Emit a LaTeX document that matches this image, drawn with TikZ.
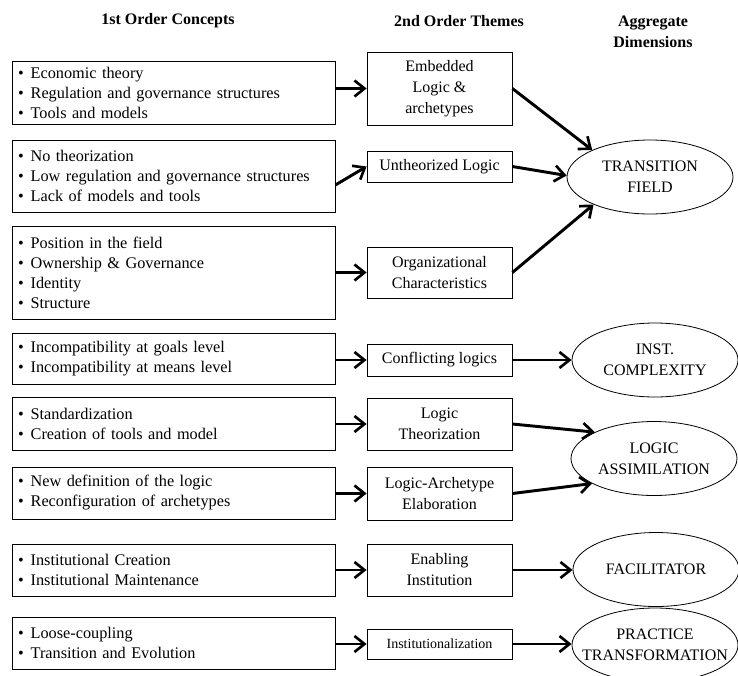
\documentclass[tikz,border=0pt]{standalone}
\usepackage{fontspec}
\setmainfont{Liberation Serif}
\usetikzlibrary{arrows.meta,shapes.geometric}
\newcommand\itm{\makebox[9.5pt][l]{\textbullet}}

\begin{document}
\begin{tikzpicture}[x=0.75pt,y=-0.75pt,
  head/.style={font=\bfseries\fontsize{12}{15.75}\selectfont, align=center},
  lbox/.style={draw, line width=0.6pt, font=\fontsize{12.2}{15}\selectfont,
    text width=233.25pt, inner xsep=4.5pt, inner ysep=2pt, align=left},
  mbox/.style={draw, line width=0.6pt, font=\fontsize{12}{15.75}\selectfont,
    minimum width=108.75pt, inner xsep=2pt, inner ysep=2pt, align=center},
  ell/.style={draw, line width=0.6pt, ellipse, font=\fontsize{12}{16}\selectfont,
    minimum width=124.5pt, minimum height=55.5pt, inner sep=0pt, align=center},
  arr/.style={line width=2.2pt, -{Straight Barb[length=7.5pt,width=12pt,line width=2pt]}}
]
\useasboundingbox (0,0) rectangle (738,675);

% column headings
\node[head] (h1) at (168,21) {1st Order Concepts};
\node[head] (h2) at (459,21) {2nd Order Themes};
\node[head] (h3) at (653,31.5) {Aggregate\\Dimensions};

% first order concepts
\node[lbox, minimum height=47.25pt] (l1) at (173.5,92.5)
  {\itm Economic theory\\\itm Regulation and governance structures\\\itm Tools and models};
\node[lbox, minimum height=54pt] (l2) at (173.5,176)
  {\itm No theorization\\\itm Low regulation and governance structures\\\itm Lack of models and tools};
\node[lbox, minimum height=69.75pt] (l3) at (173.5,272.5)
  {\itm Position in the field\\\itm Ownership \& Governance\\\itm Identity\\\itm Structure};
\node[lbox, minimum height=38.25pt] (l4) at (173.5,358.5)
  {\itm Incompatibility at goals level\\\itm Incompatibility at means level};
\node[lbox, minimum height=39.75pt] (l5) at (173.5,423.5)
  {\itm Standardization\\\itm Creation of tools and model};
\node[lbox, minimum height=39pt] (l6) at (173.5,493)
  {\itm New definition of the logic\\\itm Reconfiguration of archetypes};
\node[lbox, minimum height=39pt] (l7) at (173.5,570)
  {\itm Institutional Creation\\\itm Institutional Maintenance};
\node[lbox, minimum height=39pt] (l8) at (173.5,643)
  {\itm Loose-coupling\\\itm Transition and Evolution};

% second order themes
\node[mbox, minimum height=54.75pt] (m1) at (439.5,88.5) {Embedded\\Logic \&\\archetypes};
\node[mbox, minimum height=23.25pt] (m2) at (439.5,166.5) {Untheorized Logic};
\node[mbox, minimum height=38.25pt] (m3) at (439.5,272.5) {Organizational\\Characteristics};
\node[mbox, minimum height=24pt] (m4) at (439.5,360) {Conflicting logics};
\node[mbox, minimum height=39pt] (m5) at (439.5,424) {Logic\\Theorization};
\node[mbox, minimum height=39.75pt] (m6) at (439.5,493.5) {Logic-Archetype\\Elaboration};
\node[mbox, minimum height=39pt] (m7) at (439.5,570) {Enabling\\Institution};
\node[mbox, minimum height=22.5pt, font=\fontsize{10.5}{13}\selectfont] (m8) at (439.5,644) {Institutionalization};

% aggregate dimensions (labels kept from widening the ellipses)
\node[ell] (e1) at (650,177) {TRANSITION\\FIELD};
\node[ell] (e2) at (655,360) {INST.\\\makebox[0pt]{COMPLEXITY}};
\node[ell] (e3) at (654,458.5) {LOGIC\\\makebox[0pt]{ASSIMILATION}};
\node[ell] (e4) at (656,569.5) {FACILITATOR};
\node[ell] (e5) at (655,645) {PRACTICE\\\makebox[0pt]{TRANSFORMATION}};

% concepts to themes
\foreach \i in {1,3,4,5,6,7,8} {
  \draw[arr] (l\i.east |- m\i.west) -- (m\i.west);
}
\draw[arr] ([yshift=-6.75pt]l2.east) -- (m2.west);

% themes to dimensions
\draw[arr] (m1.east) -- (e1.155);
\draw[arr] (m2.east) -- (e1.179);
\draw[arr] (m3.east) -- (e1.206);
\draw[arr] (m4.east) -- (m4.east -| e2.west);
\draw[arr] (m5.east) -- (e3.156);
\draw[arr] (m6.east) -- (e3.202);
\draw[arr] (m7.east) -- (m7.east -| e4.west);
\draw[arr] (m8.east) -- (m8.east -| e5.west);
\end{tikzpicture}
\end{document}
